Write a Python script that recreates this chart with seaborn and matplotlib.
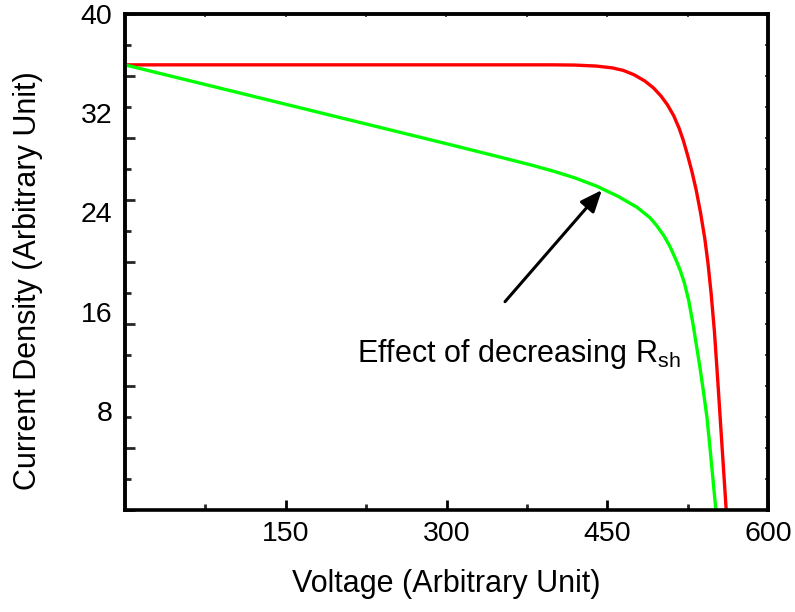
import matplotlib
matplotlib.use("Agg")
import matplotlib.pyplot as plt
from matplotlib.ticker import MultipleLocator, FixedLocator, NullFormatter
import pandas as pd
import seaborn as sns

# J-V curves: ideal cell and cell with lower shunt resistance
voltage_ideal = [0, 100, 200, 300, 400, 420, 440, 455, 465, 475, 485, 493, 500, 506,
                 512, 517, 521, 525, 529, 533, 537, 541, 544, 547, 550, 553, 556, 558.5, 561]
current_ideal = [35.9, 35.9, 35.9, 35.9, 35.9, 35.88, 35.8, 35.65, 35.45, 35.1, 34.6, 34.05, 33.4, 32.7,
                 31.8, 30.8, 29.8, 28.6, 27.3, 25.8, 24.0, 21.9, 19.9, 17.4, 14.4, 10.6, 6.6, 3.3, 0.0]

voltage_shunt = [0, 100, 200, 300, 350, 380, 400, 420, 440, 460, 478, 490, 496, 503,
                 508.5, 514, 518, 522, 526, 530, 533, 536.5, 540, 543, 546, 548.5, 551.4]
current_shunt = [35.9, 33.78, 31.66, 29.54, 28.46, 27.8, 27.32, 26.78, 26.12, 25.3, 24.4, 23.56, 22.95, 22.1,
                 21.25, 20.2, 19.35, 18.3, 16.9, 15.0, 13.4, 11.5, 9.4, 7.5, 4.9, 2.6, 0.0]

x_ticks = [150, 300, 450, 600]
y_ticks = [8, 16, 24, 32, 40]

sns.set_theme(style="white")
plt.rcParams["font.family"] = ["Liberation Sans", "DejaVu Sans"]
plt.rcParams["mathtext.fontset"] = "custom"
plt.rcParams["mathtext.rm"] = "Liberation Sans"

df = pd.concat([
    pd.DataFrame({"V": voltage_ideal, "J": current_ideal, "curve": "ideal"}),
    pd.DataFrame({"V": voltage_shunt, "J": current_shunt, "curve": "shunt"}),
])

fig = plt.figure(figsize=(7.95, 6.12), dpi=100)
ax = fig.add_axes([125 / 795, 1 - 510 / 612, (768 - 125) / 795, (510 - 14) / 612])

sns.lineplot(data=df, x="V", y="J", hue="curve",
             palette={"ideal": "#ff0000", "shunt": "#00ff00"},
             linewidth=2.4, legend=False, ax=ax, estimator=None, sort=False)
for line in ax.get_lines():
    line.set_solid_joinstyle("round")

ax.set_xlim(0, 600)
ax.set_ylim(0, 40)

for s in ax.spines.values():
    s.set_visible(True)
    s.set_linewidth(2.6)
    s.set_color("black")

# bottom axis: labelled major ticks at 150 steps, minor at 75
ax.xaxis.set_major_locator(FixedLocator(x_ticks))
ax.xaxis.set_minor_locator(MultipleLocator(75))
ax.tick_params(axis="x", which="major", direction="in", length=7, width=2,
               labelsize=20.5, pad=8, colors="black", bottom=True)
ax.tick_params(axis="x", which="minor", direction="in", length=4, width=2, bottom=True)

# left axis: labels at 8 steps, tick marks drawn on a secondary axis
ax.yaxis.set_major_locator(FixedLocator(y_ticks))
ax.tick_params(axis="y", which="major", direction="in", length=0,
               labelsize=20.5, pad=9, colors="black", left=True)

sec_left = ax.secondary_yaxis("left")
sec_left.yaxis.set_major_locator(MultipleLocator(5))
sec_left.yaxis.set_minor_locator(MultipleLocator(2.5))
sec_left.yaxis.set_major_formatter(NullFormatter())
sec_left.tick_params(which="major", direction="in", length=7, width=2)
sec_left.tick_params(which="minor", direction="in", length=4, width=2)
sec_left.spines["left"].set_linewidth(2.6)

sec_top = ax.secondary_xaxis("top")
sec_top.xaxis.set_major_locator(MultipleLocator(75))
sec_top.xaxis.set_major_formatter(NullFormatter())
sec_top.tick_params(direction="in", length=2, width=1.2)
sec_top.spines["top"].set_linewidth(2.6)

sec_right = ax.secondary_yaxis("right")
sec_right.yaxis.set_major_locator(MultipleLocator(2.5))
sec_right.yaxis.set_major_formatter(NullFormatter())
sec_right.tick_params(direction="in", length=2, width=1.2)
sec_right.spines["right"].set_linewidth(2.6)

ax.set_xlabel("Voltage (Arbitrary Unit)", fontsize=22, labelpad=16, color="black")
ax.set_ylabel("Current Density (Arbitrary Unit)", fontsize=22, color="black")
ax.yaxis.set_label_coords(-0.127, 0.462)

ax.annotate("", xy=(445, 25.8), xytext=(354.6, 16.8),
            arrowprops=dict(arrowstyle="-|>,head_length=0.6,head_width=0.25",
                            mutation_scale=22, color="black", lw=2.2,
                            shrinkA=0, shrinkB=0))
ax.text(216.5, 11.9, r"Effect of decreasing R$_\mathregular{sh}$", fontsize=22,
        ha="left", va="baseline", color="black")

fig.savefig("out.png", dpi=100)
